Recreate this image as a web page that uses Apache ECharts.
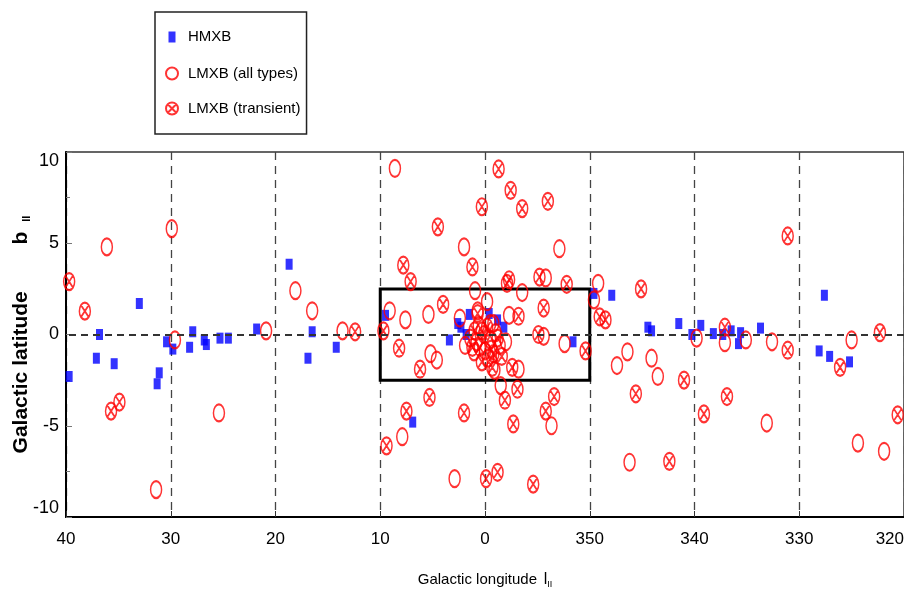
<!DOCTYPE html>
<html>
<head>
<meta charset="utf-8">
<script src="https://cdn.jsdelivr.net/npm/echarts@6/dist/echarts.min.js"></script>
<style>
  html, body { margin: 0; padding: 0; background: #fff; }
  #chart { width: 904px; height: 597px; }
</style>
</head>
<body>
<div id="chart"></div>
<script>
// galactic longitude: values below 0 are 360 + l
const xTicks = [40, 30, 20, 10, 0, -10, -20, -30, -40];
const yTicks = [10, 5, 0, -5, -10];

// [l, b]
const hmxb = [
  [39.7, -2.3], [36.8, 0.0], [37.1, -1.3], [35.4, -1.6], [33.0, 1.7],
  [31.3, -2.7], [31.1, -2.1], [30.4, -0.4], [29.8, -0.8], [28.2, -0.7],
  [27.9, 0.15], [26.8, -0.3], [26.6, -0.55], [25.3, -0.2], [24.5, -0.2],
  [21.8, 0.3], [18.7, 3.85], [16.5, 0.15], [16.9, -1.3], [14.2, -0.7],
  [9.5, 1.05], [6.9, -4.8], [3.4, -0.3], [2.6, 0.6], [2.3, 0.4],
  [1.8, 0.0], [1.5, 1.1], [-0.4, 1.15], [-1.2, 0.8], [-1.8, 0.4],
  [-8.4, -0.4], [-10.4, 2.25], [-12.1, 2.15], [-15.55, 0.4], [-15.9, 0.2],
  [-18.5, 0.6], [-19.75, 0.0], [-20.6, 0.5], [-21.8, 0.05], [-22.7, 0.0],
  [-23.5, 0.2], [-24.2, -0.5], [-24.4, 0.1], [-26.3, 0.35], [-32.4, 2.15],
  [-31.9, -0.9], [-32.9, -1.2], [-34.8, -1.5]
];

const lmxbAll = [
  [36.1, 4.8], [29.9, 5.8], [29.6, -0.3], [31.4, -8.5], [25.4, -4.3],
  [20.9, 0.2], [18.1, 2.4], [16.5, 1.3], [13.6, 0.2], [8.6, 9.1],
  [2.0, 4.8], [0.95, 2.4], [5.4, 1.1], [7.6, 0.8], [9.1, 1.3],
  [2.4, 0.9], [5.2, -1.05], [4.6, -1.4], [7.9, -5.6], [2.9, -7.9],
  [-7.1, 4.7], [-5.8, 3.1], [-3.55, 2.3], [-2.3, 1.05], [-0.2, 1.8],
  [-10.8, 2.8], [-10.4, 1.9], [-5.6, -0.1], [-7.6, -0.5], [-0.9, -1.96],
  [-1.5, -2.8], [-3.2, -1.9], [-6.35, -5.0], [-12.6, -1.7], [-13.6, -0.95],
  [-15.9, -1.3], [-16.5, -2.3], [-13.8, -7.0], [-20.2, -0.2], [-22.9, -0.45],
  [-24.9, -0.3], [-27.4, -0.4], [-26.9, -4.85], [-35.0, -0.3], [-35.6, -5.95],
  [-38.1, -6.4],
  [0.3, 0.2], [-0.5, -0.3], [0.8, -0.4], [-1.0, 0.1], [1.4, -0.2],
  [-1.4, -0.6], [0.0, -0.9], [0.6, 0.5], [-0.8, 0.6], [1.05, -0.95],
  [-0.3, -1.3], [0.7, 1.3], [-2.0, -0.4], [1.9, -0.6], [-0.5, 0.6]
];

const lmxbTransient = [
  [39.7, 2.9], [38.2, 1.28], [35.7, -4.2], [34.9, -3.7], [12.4, 0.15],
  [9.7, 0.2], [7.8, 3.8], [7.1, 2.9], [4.5, 5.9], [1.2, 3.7],
  [0.3, 7.0], [4.0, 1.65], [8.2, -0.75], [6.2, -1.9], [5.3, -3.45],
  [7.5, -4.2], [9.4, -6.1], [2.0, -4.3], [-0.1, -7.9], [-1.2, -7.55],
  [-1.3, 9.07], [-2.45, 7.9], [-3.55, 6.9], [-6.0, 7.3], [-2.3, 3.0],
  [-5.2, 3.15], [-7.8, 2.75], [-5.6, 1.45], [-3.2, 1.0], [-14.9, 2.5],
  [-10.95, 0.97], [-11.5, 0.8], [-5.1, 0.0], [-9.6, -0.9], [-2.6, -1.8],
  [-0.7, -1.8], [-1.9, -3.6], [-3.1, -3.0], [-2.7, -4.9], [-6.6, -3.4],
  [-5.8, -4.2], [-4.6, -8.2], [-14.4, -3.25], [-19.0, -2.5], [-20.9, -4.35],
  [-17.6, -6.95], [-28.9, 5.4], [-22.9, 0.4], [-28.9, -0.86], [-33.9, -1.8],
  [-37.7, 0.1], [-39.4, -4.4], [-23.1, -3.4], [-2.1, 2.8], [0.7, 1.15],
  [0.1, 0.0], [-0.2, 0.4], [0.5, -0.7], [-0.6, -0.8], [1.0, 0.2],
  [-1.2, -0.2], [0.3, -1.5], [1.2, -0.7], [-0.8, -1.05], [-1.6, -1.2]
];

// central region box (l from 10 to 350, b from -2.5 to 2.5)
const boxL = [10, -10];
const boxB = [2.5, -2.5];

const font = "'Liberation Sans', Arial, sans-serif";
const crossPath = 'path://M10,0A10,10 0 1,1 10,20A10,10 0 1,1 10,0Z' +
  'M2.93,2.93L17.07,17.07M17.07,2.93L2.93,17.07';
const redRing = {
  color: 'rgba(0,0,0,0)',
  borderColor: '#ff0000',
  borderWidth: 1.8
};

let myChart = echarts.init(document.getElementById('chart'));
let option = {
  backgroundColor: '#fff',
  animation: false,
  legend: {
    orient: 'vertical',
    left: 155,
    top: 12,
    padding: [16, 6, 18, 10],
    itemWidth: 12,
    itemHeight: 18,
    itemGap: 20,
    borderColor: '#222',
    borderWidth: 1.5,
    textStyle: { fontFamily: font, fontSize: 15, color: '#000', padding: [0, 0, 0, 5] },
    data: [
      { name: 'HMXB', icon: 'path://M0,0M12,18M2.5,3.5L9.5,3.5L9.5,14.5L2.5,14.5Z' },
      { name: 'LMXB (all types)' },
      { name: 'LMXB (transient)' }
    ]
  },
  grid: {
    left: 66,
    right: 0,
    top: 152,
    bottom: 80,
    containLabel: false,
    outerBoundsMode: 'none',
    show: true,
    borderColor: '#333',
    borderWidth: 1.5
  },
  xAxis: {
    type: 'value',
    inverse: true,
    min: -40,
    max: 40,
    interval: 10,
    name: '{t|Galactic longitude}  {l|l}{s|II}',
    nameLocation: 'middle',
    nameGap: 54,
    nameMoveOverlap: false,
    nameTextStyle: {
      rich: {
        t: { fontFamily: font, fontSize: 15, color: '#000' },
        l: { fontFamily: font, fontSize: 16, color: '#000' },
        s: { fontFamily: font, fontSize: 9, color: '#000', padding: [9, 0, 0, 0] }
      }
    },
    axisLine: { onZero: false, lineStyle: { color: '#000', width: 2 } },
    axisTick: { inside: true, length: 6, lineStyle: { color: '#333' } },
    axisLabel: {
      margin: 14,
      fontFamily: font,
      fontSize: 17,
      color: '#000',
      alignMinLabel: 'right',
      formatter: v => (v < 0 ? 360 + v : v)
    },
    splitLine: {
      show: true,
      lineStyle: { type: [8, 6], color: '#444', width: 1.3 }
    }
  },
  yAxis: {
    type: 'value',
    min: -10,
    max: 10,
    interval: 5,
    name: '{t|Galactic latitude}              {l|b}{s|II}',
    nameLocation: 'middle',
    nameGap: 34,
    nameMoveOverlap: false,
    nameTextStyle: {
      rich: {
        t: { fontFamily: font, fontWeight: 'bold', fontSize: 21, color: '#000' },
        l: { fontFamily: font, fontWeight: 'bold', fontSize: 21, color: '#000' },
        s: { fontFamily: font, fontWeight: 'bold', fontSize: 11, color: '#000', padding: [10, 0, 0, 10] }
      }
    },
    axisLine: { show: true, onZero: false, lineStyle: { color: '#000', width: 2 } },
    axisTick: { show: true, inside: true, length: 6, lineStyle: { color: '#777' } },
    minorTick: { show: true, splitNumber: 2, length: 4, lineStyle: { color: '#777' } },
    axisLabel: {
      margin: 7,
      fontFamily: font,
      fontSize: 18,
      color: '#000',
      verticalAlignMaxLabel: 'top',
      verticalAlignMinLabel: 'bottom'
    },
    splitLine: { show: false }
  },
  series: [
    {
      name: 'HMXB',
      type: 'scatter',
      symbol: 'rect',
      symbolSize: [7, 11],
      itemStyle: { color: '#0000ff' },
      data: hmxb,
      markLine: {
        silent: true,
        symbol: ['none', 'none'],
        label: { show: false },
        lineStyle: { type: [7, 5], color: '#333', width: 2 },
        data: [{ yAxis: 0 }]
      },
      markArea: {
        silent: true,
        itemStyle: { color: 'rgba(0,0,0,0)', borderColor: '#000', borderWidth: 3 },
        data: [[{ coord: [boxL[0], boxB[0]] }, { coord: [boxL[1], boxB[1]] }]]
      }
    },
    {
      name: 'LMXB (all types)',
      type: 'scatter',
      symbol: 'circle',
      symbolSize: [11, 17],
      itemStyle: redRing,
      data: lmxbAll
    },
    {
      name: 'LMXB (transient)',
      type: 'scatter',
      symbol: crossPath,
      symbolSize: [11, 17],
      itemStyle: redRing,
      data: lmxbTransient
    }
  ]
};
myChart.setOption(option);
</script>
</body>
</html>
